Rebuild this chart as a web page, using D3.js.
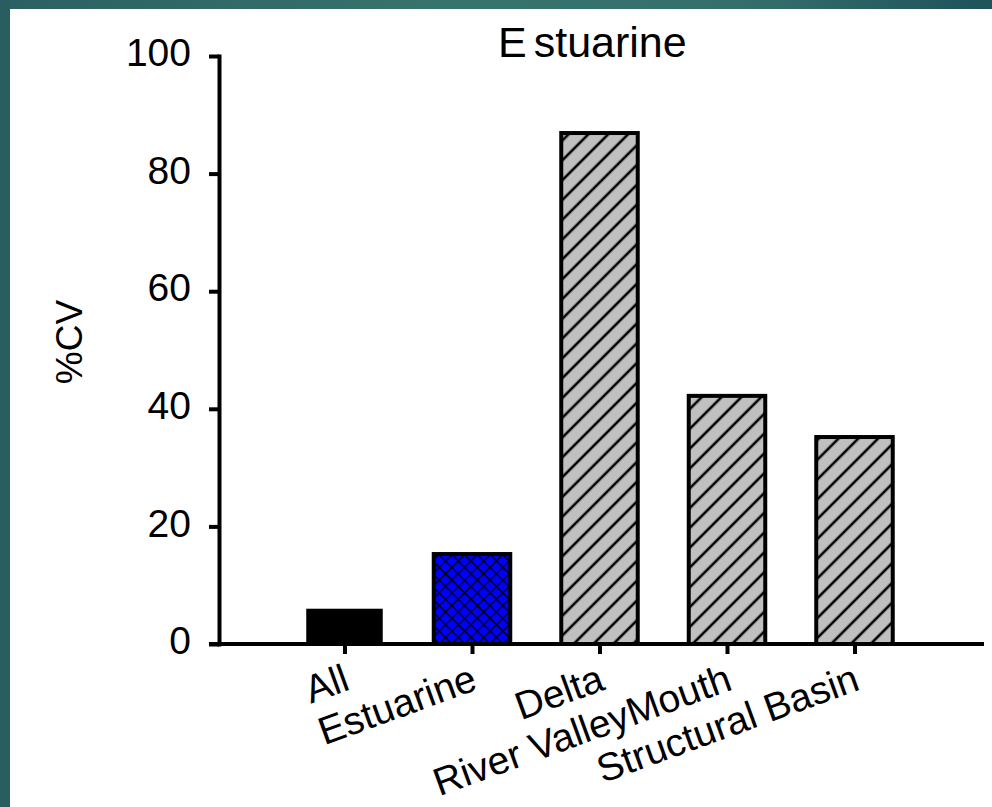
<!DOCTYPE html>
<html>
<head>
<meta charset="utf-8">
<script src="https://cdn.jsdelivr.net/npm/d3@7/dist/d3.min.js"></script>
<style>
  html, body { margin: 0; padding: 0; background: #fff; }
  svg { display: block; }
  text { font-family: "Liberation Sans", Arial, sans-serif; fill: #000; }
</style>
</head>
<body>
<svg id="chart" width="992" height="807"></svg>
<script>
// Coefficient of variation by estuary class
const categories = ["All", "Estuarine", "Delta", "River ValleyMouth", "Structural Basin"];
const cvValues = [6.0, 15.3, 86.9, 42.2, 35.2];
const fillStyles = ["solid", "checker", "hatch", "hatch", "hatch"];
const yTicks = [0, 20, 40, 60, 80, 100];
const titleParts = ["E", "stuarine"];
const yLabel = "%CV";

const W = 992, H = 807;
const svg = d3.select("#chart");

// slide frame: teal bands along the top and left edges
const defs = svg.append("defs");
const frameGrad = defs.append("linearGradient").attr("id", "frameGrad")
  .attr("x1", "0").attr("x2", "1").attr("y1", "0").attr("y2", "0");
frameGrad.append("stop").attr("offset", "0").attr("stop-color", "#2b6062");
frameGrad.append("stop").attr("offset", "0.45").attr("stop-color", "#37736d");
frameGrad.append("stop").attr("offset", "0.75").attr("stop-color", "#346f6c");
frameGrad.append("stop").attr("offset", "1").attr("stop-color", "#1f525a");
svg.append("rect").attr("x", 0).attr("y", 0).attr("width", W).attr("height", 9).attr("fill", "url(#frameGrad)");
svg.append("rect").attr("x", 0).attr("y", 0).attr("width", 10).attr("height", H).attr("fill", "#295d5f");

// fill patterns
const hatch = defs.append("pattern").attr("id", "hatch")
  .attr("patternUnits", "userSpaceOnUse").attr("width", 14).attr("height", 14)
  .attr("patternTransform", "rotate(45)");
hatch.append("rect").attr("width", 14).attr("height", 14).attr("fill", "#c0c0c0");
hatch.append("line").attr("x1", 7).attr("x2", 7).attr("y1", 0).attr("y2", 14)
  .attr("stroke", "#000").attr("stroke-width", 2.6);

// blue diamond lattice
const checker = defs.append("pattern").attr("id", "checker")
  .attr("patternUnits", "userSpaceOnUse").attr("width", 9).attr("height", 9)
  .attr("patternTransform", "rotate(45)");
checker.append("rect").attr("width", 9).attr("height", 9).attr("fill", "#0000ff");
checker.append("rect").attr("x", 0).attr("y", 0).attr("width", 9).attr("height", 1.3).attr("fill", "#000");
checker.append("rect").attr("x", 0).attr("y", 0).attr("width", 1.3).attr("height", 9).attr("fill", "#000");

// scales
const y = d3.scaleLinear().domain([0, 100]).range([644, 56]);
const x = d3.scalePoint().domain(categories).range([217, 982]).padding(1);
const barW = x.step() * 0.6;
const axisX = 219;

// bars
const bars = svg.append("g");
categories.forEach((c, i) => {
  const style = fillStyles[i];
  const r = bars.append("rect")
    .attr("x", x(c) - barW / 2)
    .attr("y", y(cvValues[i]))
    .attr("width", barW)
    .attr("height", y(0) - y(cvValues[i]));
  if (style === "solid") {
    r.attr("fill", "#000");
  } else {
    r.attr("fill", style === "checker" ? "url(#checker)" : "url(#hatch)")
      .attr("stroke", "#000").attr("stroke-width", 4);
  }
});

// y axis
const yAxis = d3.axisLeft(y).tickValues(yTicks).tickSize(10).tickSizeOuter(0).tickPadding(18);
const gy = svg.append("g").attr("transform", `translate(${axisX},0)`).call(yAxis);
gy.select(".domain").attr("stroke", "#000").attr("stroke-width", 4).attr("stroke-linecap", "square");
gy.selectAll(".tick line").attr("stroke", "#000").attr("stroke-width", 4);
gy.selectAll(".tick text")
  .attr("font-size", 39).attr("dy", "0.25em")
  .style("font-family", "'Liberation Sans', Arial, sans-serif");

// x axis: baseline plus ticks under each category
const xAxis = d3.axisBottom(x).tickSize(10).tickSizeOuter(0).tickFormat("");
const gx = svg.append("g").attr("transform", `translate(0,${y(0)})`).call(xAxis);
gx.select(".domain").remove();
gx.selectAll(".tick line").attr("stroke", "#000").attr("stroke-width", 4);
svg.append("line")
  .attr("x1", axisX - 10).attr("x2", x.range()[1] + 2)
  .attr("y1", y(0)).attr("y2", y(0))
  .attr("stroke", "#000").attr("stroke-width", 4);

// slanted category labels
svg.append("g").selectAll("text").data(categories).join("text")
  .attr("transform", d => `translate(${x(d) + 7},689) rotate(-20)`)
  .attr("text-anchor", "end")
  .attr("font-size", 39)
  .text(d => d);

// y axis title
svg.append("text")
  .attr("transform", "translate(82,342) rotate(-90)")
  .attr("text-anchor", "middle")
  .attr("font-size", 37)
  .text(yLabel);

// chart title
const title = svg.append("text")
  .attr("x", 498).attr("y", 57)
  .attr("font-size", 43);
title.append("tspan").text(titleParts[0]);
title.append("tspan").attr("dx", 7).text(titleParts[1]);
</script>
</body>
</html>
